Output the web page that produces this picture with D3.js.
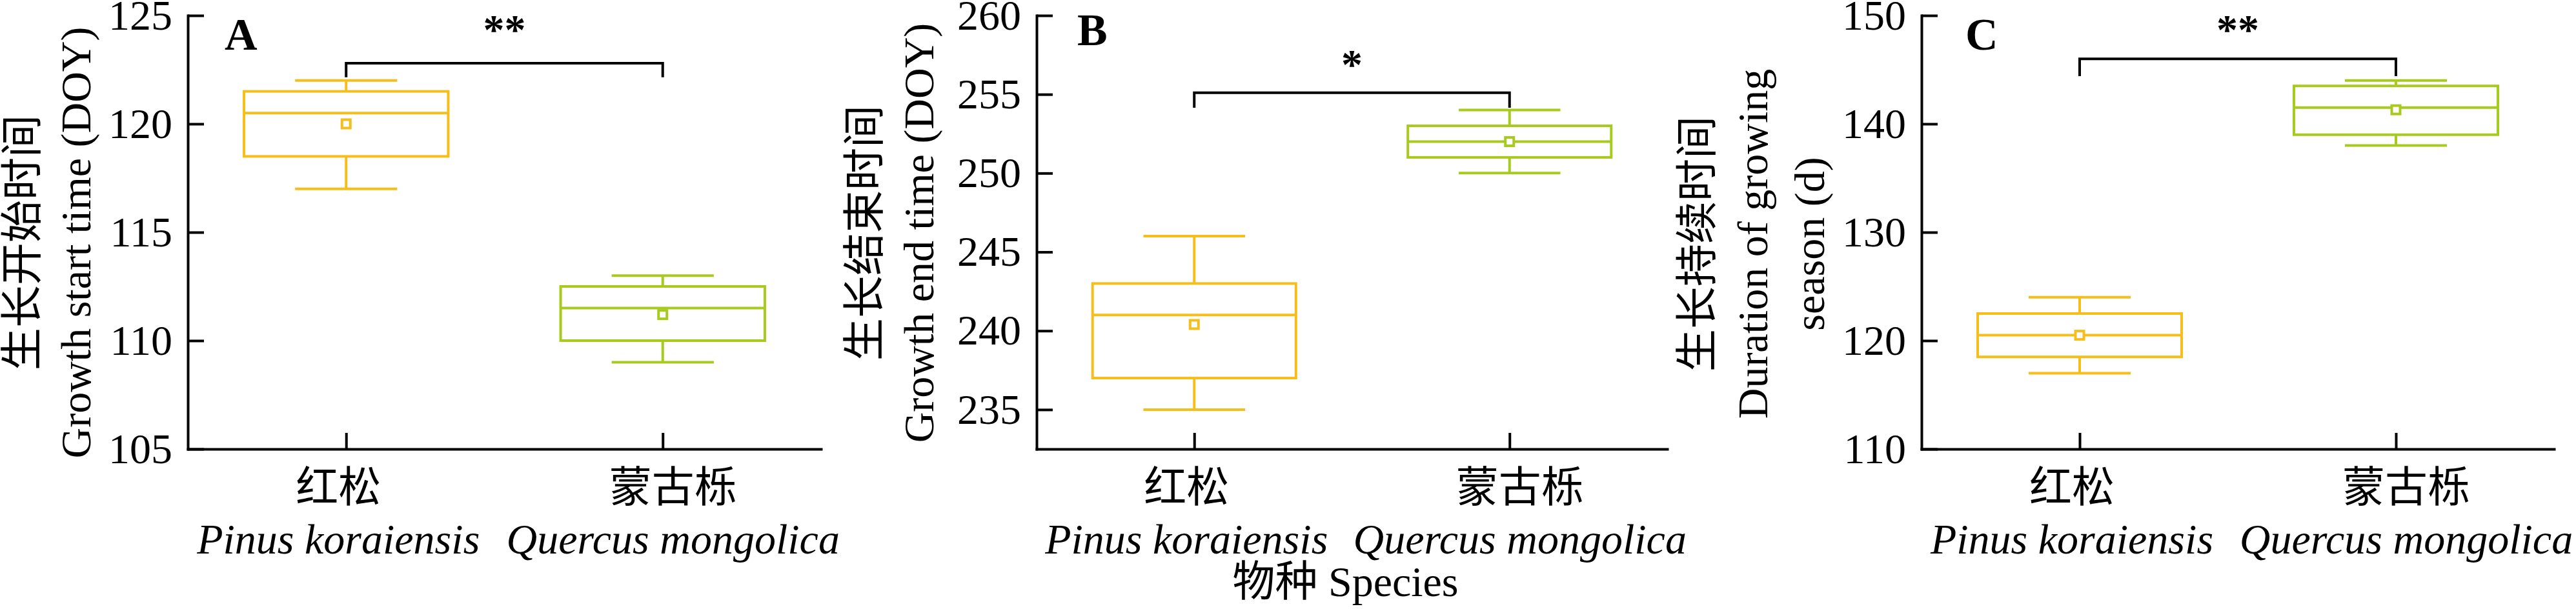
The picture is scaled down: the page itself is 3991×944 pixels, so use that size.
<!DOCTYPE html>
<html>
<head>
<meta charset="utf-8">
<script src="https://cdn.jsdelivr.net/npm/d3@7"></script>
<style>
  html, body { margin: 0; padding: 0; background: #fff; }
  svg { display: block; }
  text { font-family: "Liberation Serif", "Times New Roman", serif; fill: #000; }
  .cjk { font-family: "Noto Sans CJK SC", sans-serif; }
</style>
</head>
<body>
<svg id="chart" width="3991" height="944"></svg>
<script>
const species = ['红松', '蒙古栎']
const speciesLatin = ['Pinus koraiensis', 'Quercus mongolica']

// A: growth start time (DOY)
const startLow = [117, 109]
const startQ1 = [118.5, 110]
const startMedian = [120.5, 111.5]
const startQ3 = [121.5, 112.5]
const startHigh = [122, 113]
const startMean = [120.0, 111.2]
const startDomain = [105, 125]
const startTicks = [105, 110, 115, 120, 125]
const startSig = '**'
const startBracket = [122.8, 122.15, 123.7] // bar, leg end, star baseline

// B: growth end time (DOY)
const endLow = [235, 250]
const endQ1 = [237, 251]
const endMedian = [241, 252]
const endQ3 = [243, 253]
const endHigh = [246, 254]
const endMean = [240.4, 252.0]
const endDomain = [232.5, 260]
const endTicks = [235, 240, 245, 250, 255, 260]
const endSig = '*'
const endBracket = [255.1, 254.15, 256.0]

// C: duration of growing season (d)
const durLow = [117, 138]
const durQ1 = [118.5, 139]
const durMedian = [120.5, 141.5]
const durQ3 = [122.5, 143.5]
const durHigh = [124, 144]
const durMean = [120.5, 141.3]
const durDomain = [110, 150]
const durTicks = [110, 120, 130, 140, 150]
const durSig = '**'
const durBracket = [146, 144.4, 147.4]

const panelLetters = ['A', 'B', 'C']
const titleCn = ['生长开始时间', '生长结束时间', '生长持续时间']
const titleEn = [['Growth start time (DOY)'], ['Growth end time (DOY)'], ['Duration of growing', 'season (d)']]
const xTitleCn = '物种'
const xTitleEn = 'Species'

const colors = ['#F6BE1A', '#A6CB1D']
const fontSize = 66
const plotTop = 24
const plotBottom = 696
const tickLen = 25
const labelShift = [-12, 16]

const layout = [
  { left: 291, right: 1272, letterDx: 57, letterY: 77, cnX: 57, enX: [140], titleY: 376 },
  { left: 1606, right: 2583, letterDx: 63, letterY: 70, cnX: 1362, enX: [1446], titleY: 361 },
  { left: 2977, right: 3957, letterDx: 68, letterY: 77, cnX: 2652, enX: [2738, 2826], titleY: 378 }
]

const panels = [
  { low: startLow, q1: startQ1, median: startMedian, q3: startQ3, high: startHigh, mean: startMean,
    domain: startDomain, ticks: startTicks, sig: startSig, bracket: startBracket },
  { low: endLow, q1: endQ1, median: endMedian, q3: endQ3, high: endHigh, mean: endMean,
    domain: endDomain, ticks: endTicks, sig: endSig, bracket: endBracket },
  { low: durLow, q1: durQ1, median: durMedian, q3: durQ3, high: durHigh, mean: durMean,
    domain: durDomain, ticks: durTicks, sig: durSig, bracket: durBracket }
]

const svg = d3.select('#chart')

panels.forEach((p, i) => {
  const lay = layout[i]
  const width = lay.right - lay.left
  const g = svg.append('g').attr('transform', `translate(${lay.left},0)`)

  const xScale = d3.scalePoint().domain(species).range([0, width]).padding(0.5)
  const yScale = d3.scaleLinear().domain(p.domain).range([plotBottom, plotTop])
  const boxW = xScale.step() * 0.645
  const capW = boxW / 2

  // axes, ticks pointing inward
  const yAxis = g.append('g')
    .call(d3.axisLeft(yScale)
      .tickValues(p.ticks)
      .tickSizeInner(-tickLen)
      .tickSizeOuter(0)
      .tickPadding(24)
      .tickFormat(d3.format('d')))
  const xAxis = g.append('g')
    .attr('transform', `translate(0,${plotBottom})`)
    .call(d3.axisBottom(xScale)
      .tickSizeInner(-tickLen)
      .tickSizeOuter(0)
      .tickFormat(''))
  ;[yAxis, xAxis].forEach(ax => {
    ax.select('.domain').attr('stroke', '#000').attr('stroke-width', 4).attr('stroke-linecap', 'square')
    ax.selectAll('.tick line').attr('stroke', '#000').attr('stroke-width', 4)
  })
  yAxis.selectAll('.tick text')
    .attr('font-size', fontSize)
    .attr('font-family', '"Liberation Serif", serif')
  xAxis.selectAll('.tick text').remove()

  // category labels
  species.forEach((s, j) => {
    g.append('text')
      .attr('class', 'cjk')
      .attr('x', xScale(s) + labelShift[j])
      .attr('y', 778)
      .attr('text-anchor', 'middle')
      .attr('font-size', fontSize)
      .text(s)
    g.append('text')
      .attr('x', xScale(s) + labelShift[j])
      .attr('y', 858)
      .attr('text-anchor', 'middle')
      .attr('font-size', fontSize)
      .attr('font-style', 'italic')
      .text(speciesLatin[j])
  })

  // boxes
  const boxes = g.selectAll('.box')
    .data(species)
    .join('g')
      .attr('class', 'box')
      .attr('fill', 'none')
      .attr('stroke', (d, j) => colors[j])
      .attr('stroke-width', 4)

  boxes.append('line')
    .attr('x1', d => xScale(d)).attr('x2', d => xScale(d))
    .attr('y1', (d, j) => yScale(p.high[j])).attr('y2', (d, j) => yScale(p.q3[j]))
  boxes.append('line')
    .attr('x1', d => xScale(d)).attr('x2', d => xScale(d))
    .attr('y1', (d, j) => yScale(p.q1[j])).attr('y2', (d, j) => yScale(p.low[j]))
  boxes.append('line')
    .attr('x1', d => xScale(d) - capW / 2).attr('x2', d => xScale(d) + capW / 2)
    .attr('y1', (d, j) => yScale(p.high[j])).attr('y2', (d, j) => yScale(p.high[j]))
  boxes.append('line')
    .attr('x1', d => xScale(d) - capW / 2).attr('x2', d => xScale(d) + capW / 2)
    .attr('y1', (d, j) => yScale(p.low[j])).attr('y2', (d, j) => yScale(p.low[j]))
  boxes.append('rect')
    .attr('x', d => xScale(d) - boxW / 2)
    .attr('width', boxW)
    .attr('y', (d, j) => yScale(p.q3[j]))
    .attr('height', (d, j) => yScale(p.q1[j]) - yScale(p.q3[j]))
  boxes.append('line')
    .attr('x1', d => xScale(d) - boxW / 2).attr('x2', d => xScale(d) + boxW / 2)
    .attr('y1', (d, j) => yScale(p.median[j])).attr('y2', (d, j) => yScale(p.median[j]))
  boxes.append('rect')
    .attr('fill', '#fff')
    .attr('x', d => xScale(d) - 6.5)
    .attr('y', (d, j) => yScale(p.mean[j]) - 6.5)
    .attr('width', 13)
    .attr('height', 13)

  // significance bracket
  const xa = xScale(species[0])
  const xb = xScale(species[1])
  g.append('path')
    .attr('fill', 'none')
    .attr('stroke', '#000')
    .attr('stroke-width', 4)
    .attr('d', `M${xa},${yScale(p.bracket[1])}V${yScale(p.bracket[0])}H${xb}V${yScale(p.bracket[1])}`)
  g.append('text')
    .attr('x', (xa + xb) / 2)
    .attr('y', yScale(p.bracket[2]))
    .attr('text-anchor', 'middle')
    .attr('font-size', fontSize)
    .attr('font-weight', 'bold')
    .text(p.sig)

  // panel letter
  g.append('text')
    .attr('x', lay.letterDx)
    .attr('y', lay.letterY)
    .attr('font-size', 70)
    .attr('font-weight', 'bold')
    .text(panelLetters[i])

  // y titles (outside group, absolute x)
  svg.append('text')
    .attr('class', 'cjk')
    .attr('transform', `translate(${lay.cnX},${lay.titleY}) rotate(-90)`)
    .attr('text-anchor', 'middle')
    .attr('font-size', fontSize)
    .text(titleCn[i])
  titleEn[i].forEach((t, k) => {
    svg.append('text')
      .attr('transform', `translate(${lay.enX[k]},${lay.titleY}) rotate(-90)`)
      .attr('text-anchor', 'middle')
      .attr('font-size', fontSize)
      .text(t)
  })
})

// shared x title under panel B
const xt = svg.append('text')
  .attr('x', (layout[1].left + layout[1].right) / 2 - 10)
  .attr('y', 924)
  .attr('text-anchor', 'middle')
  .attr('font-size', fontSize)
xt.append('tspan').attr('class', 'cjk').text(xTitleCn)
xt.append('tspan').text(' ' + xTitleEn)
</script>
</body>
</html>
